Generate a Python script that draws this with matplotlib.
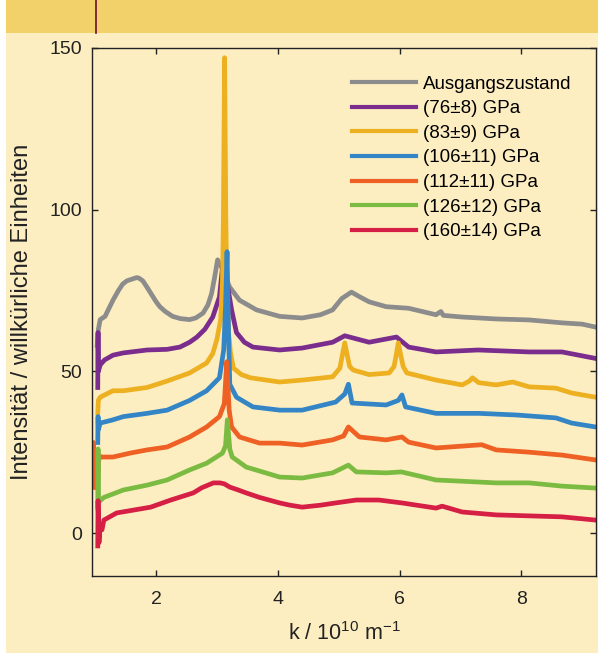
import matplotlib
matplotlib.use("Agg")
import matplotlib.pyplot as plt
from matplotlib.patches import Rectangle
from matplotlib.lines import Line2D

plt.rcParams['font.family'] = ['Liberation Sans', 'DejaVu Sans']
plt.rcParams['mathtext.default'] = 'regular'

labels = ["Ausgangszustand", "(76\u00b18) GPa", "(83\u00b19) GPa", "(106\u00b111) GPa",
          "(112\u00b111) GPa", "(126\u00b112) GPa", "(160\u00b114) GPa"]
colors = ["#8c8c8c", "#7b2d8e", "#edb021", "#3385c6", "#ee6023", "#7cbb42", "#d61f45"]

# Ausgangszustand
k_gray = [1.03, 1.05, 1.08, 1.16, 1.29, 1.38, 1.45, 1.52, 1.60, 1.68, 1.72, 1.78, 1.85, 1.95,
          2.00, 2.06, 2.15, 2.27, 2.40, 2.55, 2.65, 2.77, 2.85, 2.91, 2.96, 3.01, 3.08, 3.12,
          3.21, 3.37, 3.65, 4.03, 4.40, 4.70, 4.90, 5.05, 5.21, 5.35, 5.50, 5.78, 6.15, 6.60,
          6.68, 6.72, 7.03, 7.59, 8.13, 8.67, 9.00, 9.22]
y_gray = [58, 63, 66, 67, 72, 75, 77, 78, 78.5, 79, 78.8, 78, 76, 73,
          71.5, 70, 68.5, 67, 66.3, 66, 66.5, 68, 70.5, 74, 79, 84.5, 82, 80,
          76, 72, 69, 67, 66.5, 67.5, 69, 72.5, 74.5, 73, 71.5, 70, 69.5, 67.5,
          68.5, 67.3, 66.8, 66.2, 65.9, 65, 64.6, 63.7]

# 76 GPa
k_purple = [1.04, 1.045, 1.05, 1.08, 1.15, 1.29, 1.46, 1.85, 2.18, 2.39, 2.55, 2.67, 2.80,
            2.93, 3.04, 3.09, 3.12, 3.16, 3.24, 3.32, 3.45, 3.59, 4.03, 4.40, 4.90, 5.10,
            5.50, 5.95, 6.15, 6.60, 7.29, 8.13, 8.67, 9.22]
y_purple = [45, 62, 50, 52, 53.5, 55, 55.7, 56.6, 56.8, 57.5, 59, 60.6, 63,
            66.8, 73, 82, 85, 78, 69, 62, 59, 57.5, 56.6, 57.2, 59, 61,
            59, 60.6, 57.5, 56, 56.6, 56, 56, 54]

# 83 GPa
k_yellow = [1.04, 1.05, 1.08, 1.29, 1.46, 1.85, 2.18, 2.55, 2.83, 2.93, 3.00, 3.06, 3.09,
            3.105, 3.125, 3.145, 3.16, 3.19, 3.22, 3.27, 3.40, 3.55, 4.03, 4.40, 4.90,
            5.02, 5.06, 5.10, 5.14, 5.18, 5.24, 5.50, 5.83, 5.91, 5.95, 5.98, 6.02, 6.06,
            6.12, 6.60, 7.03, 7.15, 7.20, 7.30, 7.59, 7.86, 8.13, 8.57, 8.83, 9.22]
y_yellow = [37, 41, 42, 44, 44, 45, 47, 49.5, 52.6, 55.5, 60, 66, 78,
            97, 147, 97, 78, 62, 56, 51, 49, 48, 46.7, 47.3, 48.3,
            51, 55, 58.8, 55, 51.5, 50.4, 49, 49.5, 51.5, 55.5, 58.8, 55, 51.5,
            49.5, 47.3, 45.8, 47, 48, 46.5, 45.8, 46.7, 45.2, 44.8, 43.3, 42]

# 106 GPa
k_blue = [1.04, 1.045, 1.05, 1.08, 1.29, 1.46, 1.85, 2.18, 2.55, 2.83, 3.04, 3.11, 3.14,
          3.165, 3.19, 3.21, 3.32, 3.59, 4.03, 4.40, 4.95, 5.10, 5.16, 5.22, 5.78, 5.98,
          6.04, 6.10, 6.60, 7.31, 7.92, 8.57, 8.83, 9.22]
y_blue = [28, 36, 32, 34, 35, 36, 37, 38, 41, 44, 48, 56.6, 70,
          87, 62, 46, 42, 39, 38, 38, 40.5, 43, 46, 40.2, 39.6, 41,
          42.7, 39, 37, 37, 36.5, 35.6, 34, 32.8]

# 112 GPa
k_orange = [0.95, 0.97, 0.99, 1.00, 1.04, 1.06, 1.08, 1.29, 1.57, 1.85, 2.18, 2.55, 2.83,
            3.04, 3.12, 3.16, 3.20, 3.24, 3.37, 3.70, 4.03, 4.40, 4.90, 5.08, 5.16, 5.34,
            5.78, 6.04, 6.15, 6.60, 7.35, 7.59, 8.13, 8.67, 9.22]
y_orange = [20, 28, 14, 22, 16, 24, 23.5, 23.5, 24.7, 25.7, 26.6, 29.7, 32.8,
            36, 40, 53, 38, 32.8, 29.7, 27.8, 27.8, 27.2, 28.8, 30, 32.8, 29.7,
            28.8, 29.7, 28.1, 26.3, 27.3, 25.7, 25, 24.1, 22.6]

# 126 GPa
k_green = [1.04, 1.045, 1.05, 1.08, 1.14, 1.46, 1.85, 2.18, 2.55, 2.83, 3.09, 3.14, 3.17,
           3.21, 3.25, 3.48, 4.03, 4.40, 4.90, 5.16, 5.29, 5.78, 6.03, 6.60, 7.59, 8.13,
           8.67, 9.22]
y_green = [8, 26, 11, 10, 11, 13.3, 14.8, 16.4, 19.5, 21.6, 24.7, 27, 35,
           26, 23.5, 20.4, 17.3, 17, 18.6, 21, 18.9, 18.6, 18.9, 16.4, 15.5, 15.5,
           14.5, 13.9]

# 160 GPa
k_red = [1.04, 1.045, 1.06, 1.08, 1.11, 1.14, 1.35, 1.63, 1.91, 2.24, 2.61, 2.75, 2.94,
         3.05, 3.12, 3.21, 3.35, 3.48, 3.70, 4.03, 4.20, 4.40, 4.70, 4.95, 5.29, 5.66,
         6.04, 6.60, 6.70, 7.03, 7.59, 8.13, 8.67, 9.22]
y_red = [-4, 10, -3, 2, 1, 4, 6.2, 7.1, 8, 10.2, 12.4, 14, 15.5,
         15.5, 15.2, 14.2, 13.3, 12.4, 11, 9.3, 8.6, 8, 8.6, 9.3, 10.2, 10.2,
         9.3, 7.7, 8.3, 6.5, 5.6, 5.3, 5, 4]

series = [(k_gray, y_gray), (k_purple, y_purple), (k_yellow, y_yellow), (k_blue, y_blue),
          (k_orange, y_orange), (k_green, y_green), (k_red, y_red)]

bg = "#fdeec2"
band = "#f2d16b"

fig = plt.figure(figsize=(5.98, 6.53), dpi=100)
fig.patch.set_facecolor("white")
fig.patches.append(Rectangle((6 / 598, 0), 1, 1, transform=fig.transFigure,
                             facecolor=bg, edgecolor="none", zorder=-10))
fig.patches.append(Rectangle((6 / 598, 1 - 33 / 653), 1, 33 / 653, transform=fig.transFigure,
                             facecolor=band, edgecolor="none", zorder=-9))
fig.lines.append(Line2D([96 / 598, 96 / 598], [1 - 33 / 653, 1], transform=fig.transFigure,
                        color="#6b0f2a", lw=1.2))

ax = fig.add_axes([0.1533, 0.1179, 0.8434, 0.8086])
ax.set_facecolor(bg)

for (k, y), c, lab in zip(series, colors, labels):
    ax.plot(k, y, color=c, lw=3.4, label=lab, solid_joinstyle="round")

ax.set_xlim(0.94, 9.23)
ax.set_ylim(-13.3, 150)
ax.set_xticks([2, 4, 6, 8])
ax.set_yticks([0, 50, 100, 150])
ax.tick_params(direction="in", length=4, width=1, top=True, right=True,
               labelsize=14, colors="#222222")
ax.tick_params(axis="x", pad=11)
ax.tick_params(axis="y", pad=7)
for s in ax.spines.values():
    s.set_color("#222222")
    s.set_linewidth(1)

ax.set_xlabel("k / 10$^{10}$ m$^{-1}$", fontsize=15.5, color="#222222", labelpad=10)
ax.set_ylabel("Intensit\u00e4t / willk\u00fcrliche Einheiten", fontsize=17,
              color="#222222", labelpad=12)

leg = ax.legend(loc="upper left", bbox_to_anchor=(0.516, 0.948), frameon=False,
                fontsize=13.5, handlelength=3.4, handletextpad=0.37, borderpad=0,
                borderaxespad=0, labelspacing=0.4)
for h in leg.get_lines():
    h.set_linewidth(3)

fig.savefig("out.png", dpi=100, facecolor=fig.get_facecolor())
